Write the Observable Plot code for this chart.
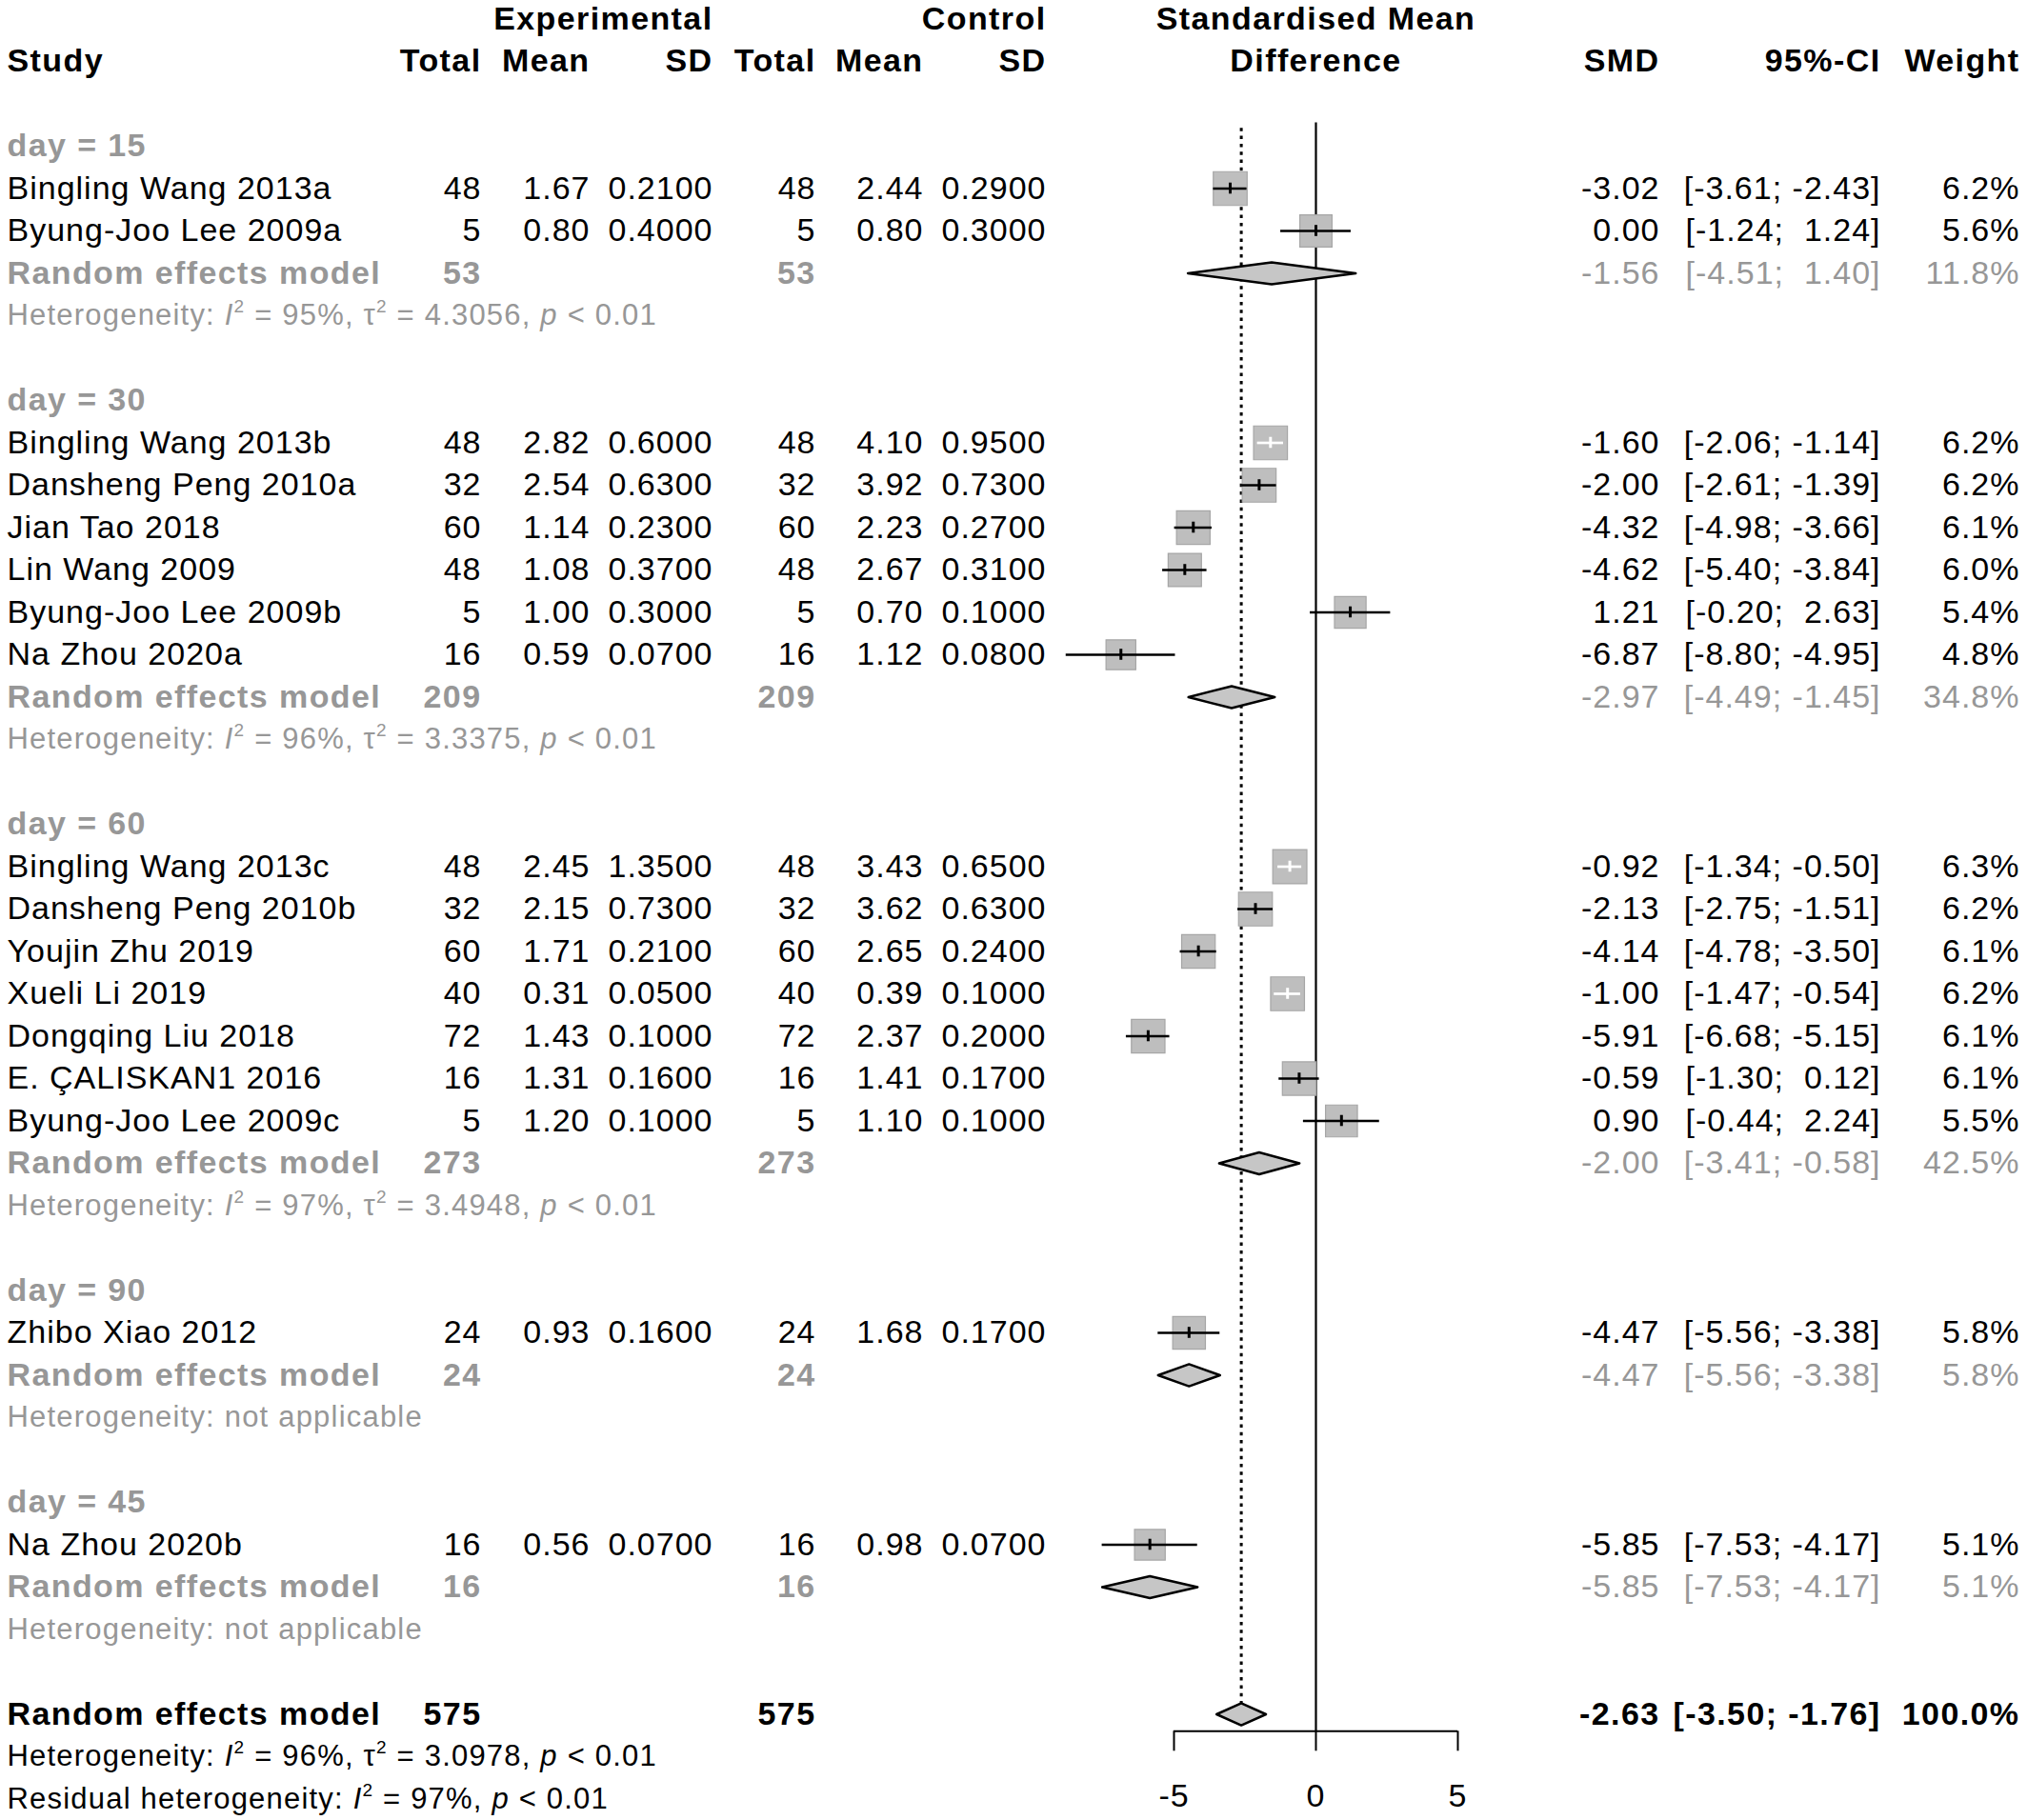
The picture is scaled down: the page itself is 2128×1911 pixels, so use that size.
<!DOCTYPE html>
<html>
<head>
<meta charset="utf-8">
<script src="https://cdn.jsdelivr.net/npm/d3@7"></script>
<script src="https://cdn.jsdelivr.net/npm/@observablehq/plot@0.6"></script>
<style>
html, body { margin: 0; padding: 0; background: #ffffff; }
#chart svg { display: block; background: #ffffff; }
#chart svg text { letter-spacing: 1px; white-space: pre; }
#chart svg g[font-weight="bold"] text { letter-spacing: 1.4px; }
#chart svg g[font-size="31"] text { letter-spacing: 1.2px; }
</style>
</head>
<body>
<div id="chart"></div>
<script>
// ---------------- data ----------------
const axisTicks = [-5, 0, 5];

const headerTop = {expSD: "Experimental", ctlSD: "Control", forest: "Standardised Mean"};
const headerBottom = {study: "Study", expTotal: "Total", expMean: "Mean", expSD: "SD",
  ctlTotal: "Total", ctlMean: "Mean", ctlSD: "SD", forest: "Difference",
  smd: "SMD", ci: "95%-CI", weight: "Weight"};

const studyNames = [
  "Bingling Wang 2013a", "Byung-Joo Lee 2009a",
  "Bingling Wang 2013b", "Dansheng Peng 2010a", "Jian Tao 2018", "Lin Wang 2009", "Byung-Joo Lee 2009b", "Na Zhou 2020a",
  "Bingling Wang 2013c", "Dansheng Peng 2010b", "Youjin Zhu 2019", "Xueli Li 2019", "Dongqing Liu 2018", "E. ÇALISKAN1 2016", "Byung-Joo Lee 2009c",
  "Zhibo Xiao 2012",
  "Na Zhou 2020b"
];
const studyGroup = [
  "day = 15", "day = 15",
  "day = 30", "day = 30", "day = 30", "day = 30", "day = 30", "day = 30",
  "day = 60", "day = 60", "day = 60", "day = 60", "day = 60", "day = 60", "day = 60",
  "day = 90",
  "day = 45"
];
const expTotal = [48, 5, 48, 32, 60, 48, 5, 16, 48, 32, 60, 40, 72, 16, 5, 24, 16];
const expMean  = [1.67, 0.80, 2.82, 2.54, 1.14, 1.08, 1.00, 0.59, 2.45, 2.15, 1.71, 0.31, 1.43, 1.31, 1.20, 0.93, 0.56];
const expSD    = [0.21, 0.40, 0.60, 0.63, 0.23, 0.37, 0.30, 0.07, 1.35, 0.73, 0.21, 0.05, 0.10, 0.16, 0.10, 0.16, 0.07];
const ctlTotal = [48, 5, 48, 32, 60, 48, 5, 16, 48, 32, 60, 40, 72, 16, 5, 24, 16];
const ctlMean  = [2.44, 0.80, 4.10, 3.92, 2.23, 2.67, 0.70, 1.12, 3.43, 3.62, 2.65, 0.39, 2.37, 1.41, 1.10, 1.68, 0.98];
const ctlSD    = [0.29, 0.30, 0.95, 0.73, 0.27, 0.31, 0.10, 0.08, 0.65, 0.63, 0.24, 0.10, 0.20, 0.17, 0.10, 0.17, 0.07];
const smd      = [-3.02, 0.00, -1.60, -2.00, -4.32, -4.62, 1.21, -6.87, -0.92, -2.13, -4.14, -1.00, -5.91, -0.59, 0.90, -4.47, -5.85];
const ciLower  = [-3.61, -1.24, -2.06, -2.61, -4.98, -5.40, -0.20, -8.80, -1.34, -2.75, -4.78, -1.47, -6.68, -1.30, -0.44, -5.56, -7.53];
const ciUpper  = [-2.43, 1.24, -1.14, -1.39, -3.66, -3.84, 2.63, -4.95, -0.50, -1.51, -3.50, -0.54, -5.15, 0.12, 2.24, -3.38, -4.17];
const weight   = [6.2, 5.6, 6.2, 6.2, 6.1, 6.0, 5.4, 4.8, 6.3, 6.2, 6.1, 6.2, 6.1, 6.1, 5.5, 5.8, 5.1];

const groupLabels   = ["day = 15", "day = 30", "day = 60", "day = 90", "day = 45"];
const groupExpTotal = [53, 209, 273, 24, 16];
const groupCtlTotal = [53, 209, 273, 24, 16];
const groupSMD      = [-1.56, -2.97, -2.00, -4.47, -5.85];
const groupLower    = [-4.51, -4.49, -3.41, -5.56, -7.53];
const groupUpper    = [1.40, -1.45, -0.58, -3.38, -4.17];
const groupWeight   = [11.8, 34.8, 42.5, 5.8, 5.1];
const groupI2       = ["95%", "96%", "97%", null, null];
const groupTau2     = ["4.3056", "3.3375", "3.4948", null, null];
const groupP        = ["< 0.01", "< 0.01", "< 0.01", null, null];

const overallLabel = "Random effects model";
const overallExpTotal = 575, overallCtlTotal = 575;
const overallSMD = -2.63, overallLower = -3.50, overallUpper = -1.76, overallWeight = 100.0;
const overallI2 = "96%", overallTau2 = "3.0978", overallP = "< 0.01";
const residualI2 = "97%", residualP = "< 0.01";

// ---------------- layout / style ----------------
const W = 2128, H = 1911;
const TOP = 19.5, ROW_H = 44.5;
const FONT = 34, HET_FONT = 31;
const BLACK = "#000000", GRAY = "#979797";
const FONT_FAMILY = "'Liberation Sans', Arial, Helvetica, sans-serif";
const cols = {
  study:    {px: 7,    anchor: "start"},
  expTotal: {px: 505,  anchor: "end"},
  expMean:  {px: 619,  anchor: "end"},
  expSD:    {px: 748,  anchor: "end"},
  ctlTotal: {px: 856,  anchor: "end"},
  ctlMean:  {px: 969,  anchor: "end"},
  ctlSD:    {px: 1098, anchor: "end"},
  forest:   {forest: true, anchor: "middle"},
  smd:      {px: 1742, anchor: "end"},
  ci:       {px: 1974, anchor: "end"},
  weight:   {px: 2120, anchor: "end"}
};

const f2 = v => v.toFixed(2);
const f4 = v => v.toFixed(4);
const fci = (l, u) => "[" + f2(l) + "; " + (u >= 0 ? " " : "") + f2(u) + "]";
const fw = v => v.toFixed(1) + "%";
const hetText = (i2, tau2, p) => i2 == null ? "Heterogeneity: not applicable"
  : "Heterogeneity: I² = " + i2 + ", τ² = " + tau2 + ", p " + p;

// ---------------- build rows ----------------
const cells = [];
const add = (col, text, slot, bold, color, size = FONT) => cells.push({col, text, slot, bold, color, size});

for (const k in headerTop) add(k, headerTop[k], 0, true, BLACK);
for (const k in headerBottom) add(k, headerBottom[k], 1, true, BLACK);

const studyRows = [], diamondRows = [];
let slot = 3;
const firstGroupSlot = slot;
groupLabels.forEach((g, gi) => {
  add("study", g, slot, true, GRAY); slot++;
  studyNames.forEach((name, i) => {
    if (studyGroup[i] !== g) return;
    add("study", name, slot, false, BLACK);
    add("expTotal", String(expTotal[i]), slot, false, BLACK);
    add("expMean", f2(expMean[i]), slot, false, BLACK);
    add("expSD", f4(expSD[i]), slot, false, BLACK);
    add("ctlTotal", String(ctlTotal[i]), slot, false, BLACK);
    add("ctlMean", f2(ctlMean[i]), slot, false, BLACK);
    add("ctlSD", f4(ctlSD[i]), slot, false, BLACK);
    add("smd", f2(smd[i]), slot, false, BLACK);
    add("ci", fci(ciLower[i], ciUpper[i]), slot, false, BLACK);
    add("weight", fw(weight[i]), slot, false, BLACK);
    studyRows.push({slot, smd: smd[i], lower: ciLower[i], upper: ciUpper[i], weight: weight[i]});
    slot++;
  });
  add("study", overallLabel, slot, true, GRAY);
  add("expTotal", String(groupExpTotal[gi]), slot, true, GRAY);
  add("ctlTotal", String(groupCtlTotal[gi]), slot, true, GRAY);
  add("smd", f2(groupSMD[gi]), slot, false, GRAY);
  add("ci", fci(groupLower[gi], groupUpper[gi]), slot, false, GRAY);
  add("weight", fw(groupWeight[gi]), slot, false, GRAY);
  diamondRows.push({id: g, slot, smd: groupSMD[gi], lower: groupLower[gi], upper: groupUpper[gi]});
  slot++;
  add("study", hetText(groupI2[gi], groupTau2[gi], groupP[gi]), slot, false, GRAY, HET_FONT); slot++;
  slot++; // blank line
});
const overallSlot = slot;
add("study", overallLabel, slot, true, BLACK);
add("expTotal", String(overallExpTotal), slot, true, BLACK);
add("ctlTotal", String(overallCtlTotal), slot, true, BLACK);
add("smd", f2(overallSMD), slot, true, BLACK);
add("ci", fci(overallLower, overallUpper), slot, true, BLACK);
add("weight", fw(overallWeight), slot, true, BLACK);
diamondRows.push({id: "overall", slot, smd: overallSMD, lower: overallLower, upper: overallUpper});
slot++;
add("study", hetText(overallI2, overallTau2, overallP), slot, false, BLACK, HET_FONT); slot++;
add("study", "Residual heterogeneity: I² = " + residualI2 + ", p " + residualP, slot, false, BLACK, HET_FONT);
const lastSlot = slot;

// ---------------- scales ----------------
const xDomain = [axisTicks[0], axisTicks[axisTicks.length - 1]];
const xRange = [1232, 1530];
const pxPerUnit = (xRange[1] - xRange[0]) / (xDomain[1] - xDomain[0]);
const rMaxWeight = 6.3, rMax = 20.2;
const axisSlot = overallSlot + 0.4;
const yPix = s => TOP + s * ROW_H;
const marginBottom = H - yPix(axisSlot);

// CI drawn white when it lies well inside the square
studyRows.forEach(d => {
  const sideUnits = rMax * Math.sqrt(d.weight / rMaxWeight) * Math.sqrt(Math.PI) / pxPerUnit;
  d.lineColor = (d.upper - d.lower) < 0.85 * sideUnits ? "white" : "black";
});

const DH = 0.26; // diamond half height (in rows)
const diamondPts = diamondRows.flatMap(d => [
  {id: d.id, x: d.lower, y: d.slot},
  {id: d.id, x: d.smd, y: d.slot - DH},
  {id: d.id, x: d.upper, y: d.slot},
  {id: d.id, x: d.smd, y: d.slot + DH}
]);

// ---------------- text marks ----------------
const textMarks = [];
for (const [, list] of d3.group(cells, d => d.col + "|" + d.bold + "|" + d.size)) {
  const c = cols[list[0].col];
  const opts = {
    y: "slot", text: "text", fill: "color",
    fontSize: list[0].size, fontWeight: list[0].bold ? "bold" : "normal",
    textAnchor: c.anchor, lineAnchor: "middle"
  };
  if (c.forest) { opts.x = () => 0; }
  else { opts.frameAnchor = "left"; opts.dx = c.px; }
  textMarks.push(Plot.text(list, opts));
}

// ---------------- plot ----------------
const svg = Plot.plot({
  width: W, height: H,
  marginTop: 0, marginLeft: 0, marginRight: 0, marginBottom,
  style: {fontFamily: FONT_FAMILY, fontSize: FONT + "px", background: "#ffffff", color: "#000"},
  x: {domain: xDomain, range: xRange},
  y: {domain: [0, lastSlot], range: [yPix(0), yPix(lastSlot)], axis: null},
  r: {domain: [0, rMaxWeight], range: [0, rMax]},
  marks: [
    Plot.ruleX([{x: 0, y1: firstGroupSlot - 0.55, y2: axisSlot}], {x: "x", y1: "y1", y2: "y2", stroke: "black", strokeWidth: 2.2}),
    Plot.ruleX([{x: overallSMD, y1: firstGroupSlot - 0.42, y2: overallSlot}], {x: "x", y1: "y1", y2: "y2", stroke: "black", strokeWidth: 3, strokeDasharray: "3.5,4.8"}),
    Plot.ruleY([{y: axisSlot, x1: axisTicks[0], x2: axisTicks[axisTicks.length - 1]}], {y: "y", x1: "x1", x2: "x2", stroke: "black", strokeWidth: 2}),
    Plot.axisX({anchor: "bottom", ticks: axisTicks, tickSize: 21, tickPadding: 34, tickFormat: d => String(d), label: null, fontSize: FONT, strokeWidth: 2}),
    Plot.dot(studyRows, {x: "smd", y: "slot", r: "weight", symbol: "square", fill: "#bebebe", stroke: "#a6a6a6", strokeWidth: 1.2}),
    Plot.ruleY(studyRows, {y: "slot", x1: "lower", x2: "upper", stroke: "lineColor", strokeWidth: 2.7}),
    Plot.ruleX(studyRows, {x: "smd", y1: d => d.slot - 0.13, y2: d => d.slot + 0.13, stroke: "lineColor", strokeWidth: 3}),
    Plot.line(diamondPts, {x: "x", y: "y", z: "id", curve: "linear-closed", fill: "#c6c6c6", stroke: "black", strokeWidth: 2.5}),
    ...textMarks
  ]
});

// superscripts / italics in the heterogeneity lines
const NS = "http://www.w3.org/2000/svg";
svg.querySelectorAll("text").forEach(t => {
  const s = t.textContent;
  if (!/^(Residual heterogeneity|Heterogeneity): I²/.test(s)) return;
  const parts = s.split(/(I²|τ²|\bp(?= <))/);
  t.textContent = "";
  let pending = 0;
  const up = 0.42 * HET_FONT;
  const span = (txt, attrs = {}) => {
    const sp = document.createElementNS(NS, "tspan");
    sp.textContent = txt;
    if (pending) { sp.setAttribute("dy", pending); pending = 0; }
    for (const k in attrs) sp.setAttribute(k, attrs[k]);
    t.appendChild(sp);
  };
  for (const p of parts) {
    if (!p) continue;
    if (p === "I²" || p === "τ²") {
      span(p[0], p[0] === "I" ? {"font-style": "italic"} : {});
      span("2", {"font-size": Math.round(HET_FONT * 0.62), dy: -up});
      pending = up;
    } else if (p === "p") {
      span("p", {"font-style": "italic"});
    } else {
      span(p);
    }
  }
});

document.getElementById("chart").appendChild(svg);
</script>
</body>
</html>
